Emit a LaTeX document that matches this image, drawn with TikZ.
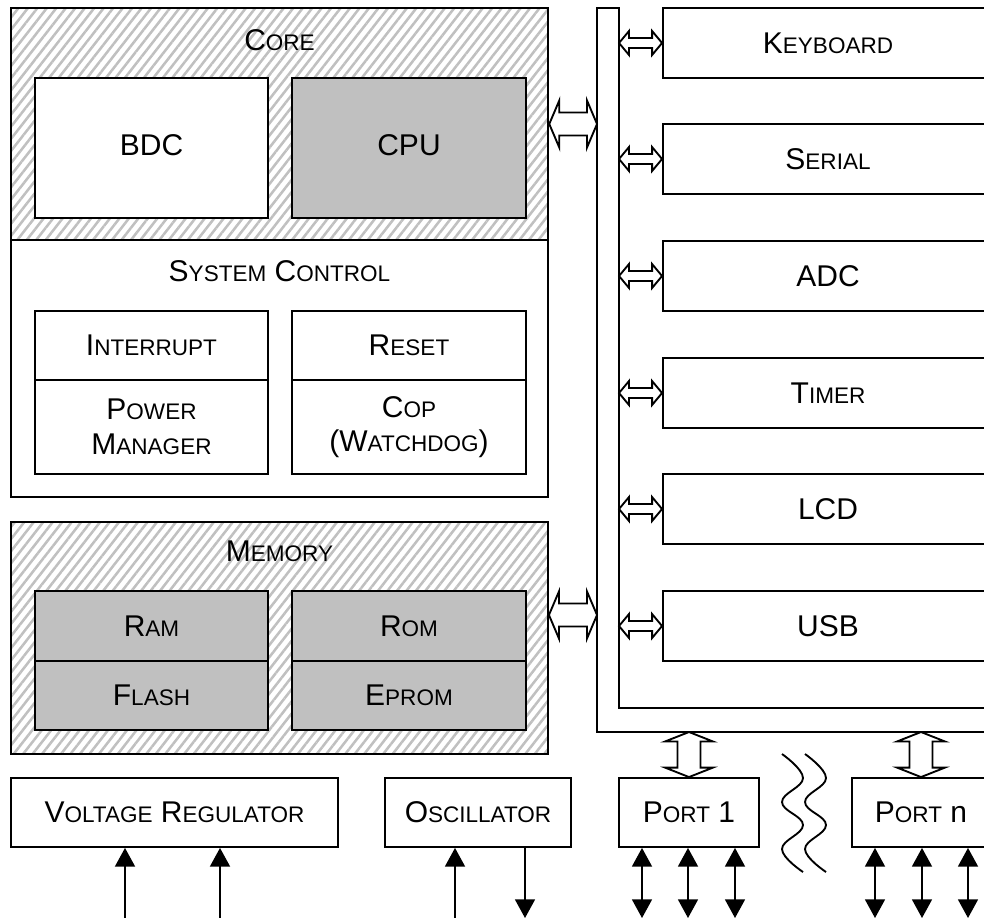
\documentclass[tikz,border=0pt]{standalone}
\usepackage{fontspec}
\setmainfont{Liberation Sans}
\usetikzlibrary{fit,arrows.meta,patterns.meta}
\definecolor{cpugray}{HTML}{C0C0C0}
\definecolor{hatchgray}{HTML}{C0C0C0}
\newcommand\lowcap[1]{{\fontsize{16.9}{20}\selectfont #1}}
% horizontal hollow double arrow: #1 left tip, #2 right tip, #3 head half, #4 shaft half, #5 head length
\newcommand\hdarrow[5]{%
  \draw[blockarrow] (#1) -- ([shift={(#5,-#3)}]#1) -- ([shift={(#5,-#4)}]#1)
    -- ([shift={(-#5,-#4)}]#2) -- ([shift={(-#5,-#3)}]#2) -- (#2)
    -- ([shift={(-#5,#3)}]#2) -- ([shift={(-#5,#4)}]#2)
    -- ([shift={(#5,#4)}]#1) -- ([shift={(#5,#3)}]#1) -- cycle;}
% vertical hollow double arrow: #1 top tip, #2 bottom tip
\newcommand\vdarrow[5]{%
  \draw[blockarrow] (#1) -- ([shift={(#3,#5)}]#1) -- ([shift={(#4,#5)}]#1)
    -- ([shift={(#4,-#5)}]#2) -- ([shift={(#3,-#5)}]#2) -- (#2)
    -- ([shift={(-#3,-#5)}]#2) -- ([shift={(-#4,-#5)}]#2)
    -- ([shift={(-#4,#5)}]#1) -- ([shift={(-#3,#5)}]#1) -- cycle;}
\begin{document}
\begin{tikzpicture}[x=0.75pt,y=-0.75pt,
  box/.style={draw, line width=1.4pt, rectangle, inner sep=0pt, fill=white},
  graybox/.style={box, fill=cpugray},
  hatch/.style={box, pattern={Lines[angle=52,distance=5.6pt,line width=1.9pt]}, pattern color=hatchgray},
  txt/.style={font=\fontsize{22.5}{26}\selectfont, align=center, inner sep=0pt},
  blockarrow/.style={draw, fill=white, line width=1.4pt, line join=miter},
  busline/.style={draw, line width=1.4pt, line join=miter},
  pinarrow/.style={line width=1.2pt, {Triangle[length=14pt,width=15pt]}-{Triangle[length=14pt,width=15pt]}},
  uparrow/.style={line width=1.2pt, -{Triangle[length=14pt,width=15pt]}},
  squig/.style={line width=1.4pt}
]
\useasboundingbox (0,0) rectangle (984,917);
\clip (0,0) rectangle (984,917);

% ---------- Core ----------
\node[hatch, fit={(11,8) (548,240)}] (core) {};
\node[txt] (coret) at (core.center |- 0,40) {C\lowcap{ORE}};
\node[box, fit={(35,78) (268,218)}] (bdc) {};
\node[txt] at ([yshift=2pt]bdc.center) {BDC};
\node[graybox, fit={(292,78) (526,218)}] (cpu) {};
\node[txt] at ([yshift=2pt]cpu.center) {CPU};

% ---------- System control ----------
\node[box, fit={(11,240) (548,497)}] (sys) {};
\node[txt] (syst) at (sys.center |- 0,271) {S\lowcap{YSTEM} C\lowcap{ONTROL}};
\node[box, fit={(35,311) (268,380)}] (intr) {};
\node[txt] at (intr.center) {I\lowcap{NTERRUPT}};
\node[box, fit={(35,380) (268,474)}] (pwr) {};
\node[txt] at (pwr.center) {P\lowcap{OWER}\\M\lowcap{ANAGER}};
\node[box, fit={(292,311) (526,380)}] (rst) {};
\node[txt] at (rst.center) {R\lowcap{ESET}};
\node[box, fit={(292,380) (526,474)}] (cop) {};
\node[txt] at (cop.center) {C\lowcap{OP}\\(W\lowcap{ATCHDOG})};

% ---------- Memory ----------
\node[hatch, fit={(11,522) (548,754)}] (mem) {};
\node[txt] (memt) at (mem.center |- 0,551) {M\lowcap{EMORY}};
\node[graybox, fit={(35,591) (268,661)}] (ram) {};
\node[txt] at (ram.center) {R\lowcap{AM}};
\node[graybox, fit={(35,661) (268,730)}] (flash) {};
\node[txt] at (flash.center) {F\lowcap{LASH}};
\node[graybox, fit={(292,591) (526,661)}] (rom) {};
\node[txt] at (rom.center) {R\lowcap{OM}};
\node[graybox, fit={(292,661) (526,730)}] (eprom) {};
\node[txt] at (eprom.center) {E\lowcap{PROM}};

% ---------- Bottom row ----------
\node[box, fit={(11,778) (338,847)}] (vreg) {};
\node[txt] at (vreg.center) {V\lowcap{OLTAGE} R\lowcap{EGULATOR}};
\node[box, fit={(385,778) (571,847)}] (osc) {};
\node[txt] at (osc.center) {O\lowcap{SCILLATOR}};
\node[box, fit={(619,778) (759,847)}] (port1) {};
\node[txt] at (port1.center) {P\lowcap{ORT} 1};
\node[box, fit={(852,778) (990,847)}] (portn) {};
\node[txt] at (portn.center) {P\lowcap{ORT} n};

% ---------- Peripherals ----------
\node[box, fit={(663,8) (993,78)}] (kbd) {};
\node[txt] at (kbd.center) {K\lowcap{EYBOARD}};
\node[box, fit={(663,124) (993,194)}] (ser) {};
\node[txt] at (ser.center) {S\lowcap{ERIAL}};
\node[box, fit={(663,241) (993,311)}] (adc) {};
\node[txt] at (adc.center) {ADC};
\node[box, fit={(663,358) (993,428)}] (tmr) {};
\node[txt] at (tmr.center) {T\lowcap{IMER}};
\node[box, fit={(663,474) (993,544)}] (lcd) {};
\node[txt] at (lcd.center) {LCD};
\node[box, fit={(663,591) (993,661)}] (usb) {};
\node[txt] at (usb.center) {USB};

% ---------- Bus ----------
\coordinate (bo) at (597,8);
\coordinate (bi) at (619,8);
\coordinate (bb) at (597,732);
\coordinate (bend) at (1000,732);
\coordinate (iend) at (1000,708);
\draw[busline] (bend) -- (bb) -- (bo) -- (bi) -- (bi |- iend) -- (iend);

% ---------- Bus connectors ----------
\coordinate (cR) at (core.east -| bo);
\hdarrow{core.east}{cR}{23.5}{11.5}{10}
\coordinate (mL) at (mem.east |- 0,615);
\coordinate (mR) at (mL -| bo);
\hdarrow{mL}{mR}{23.5}{11.5}{10}

\coordinate (kL) at (kbd.west -| bi);
\hdarrow{kL}{kbd.west}{12}{5}{10}
\coordinate (sL) at (ser.west -| bi);
\hdarrow{sL}{ser.west}{12}{5}{10}
\coordinate (aL) at (adc.west -| bi);
\hdarrow{aL}{adc.west}{12}{5}{10}
\coordinate (tL) at (tmr.west -| bi);
\hdarrow{tL}{tmr.west}{12}{5}{10}
\coordinate (lL) at (lcd.west -| bi);
\hdarrow{lL}{lcd.west}{12}{5}{10}
\coordinate (uL) at (usb.west -| bi);
\hdarrow{uL}{usb.west}{12}{5}{10}

\coordinate (p1T) at (port1.north |- bb);
\vdarrow{p1T}{port1.north}{24}{11.5}{9.5}
\coordinate (pnT) at (portn.north |- bb);
\vdarrow{pnT}{portn.north}{24}{11.5}{9.5}

% ---------- Pins ----------
\coordinate (bot) at (0,918);
\path (vreg.south) ++(-49.5,0) coordinate (v1);
\path (vreg.south) ++(45.5,0) coordinate (v2);
\draw[uparrow] (v1 |- bot) -- (v1);
\draw[uparrow] (v2 |- bot) -- (v2);
\path (osc.south) ++(-23,0) coordinate (o1);
\path (osc.south) ++(47,0) coordinate (o2);
\draw[uparrow] (o1 |- bot) -- (o1);
\draw[uparrow] (o2) -- (o2 |- bot);

\path (port1.south) ++(-47,0) coordinate (p1a);
\path (port1.south) ++(-1,0) coordinate (p1b);
\path (port1.south) ++(46,0) coordinate (p1c);
\draw[pinarrow] (p1a) -- (p1a |- bot);
\draw[pinarrow] (p1b) -- (p1b |- bot);
\draw[pinarrow] (p1c) -- (p1c |- bot);
\path (portn.south) ++(-46,0) coordinate (pna);
\path (portn.south) ++(1,0) coordinate (pnb);
\path (portn.south) ++(47,0) coordinate (pnc);
\draw[pinarrow] (pna) -- (pna |- bot);
\draw[pinarrow] (pnb) -- (pnb |- bot);
\draw[pinarrow] (pnc) -- (pnc |- bot);

% ---------- Break marks ----------
\draw[squig] plot[smooth, tension=0.7] coordinates {(782,754) (803,778) (782,802) (803,825) (782,849) (803,872)};
\draw[squig] plot[smooth, tension=0.7] coordinates {(805,754) (826,778) (805,802) (826,825) (805,849) (826,872)};
\end{tikzpicture}
\end{document}
